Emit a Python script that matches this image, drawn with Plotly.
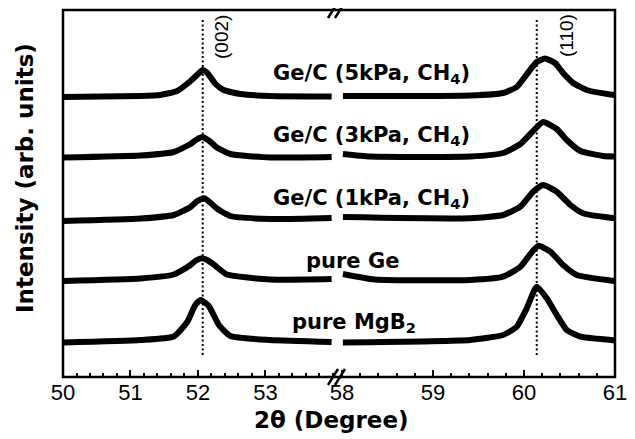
import plotly.graph_objects as go

# ---- data (2theta in degrees, intensity in arbitrary stacked units) ----
labels = ["Ge/C (5kPa, CH<sub>4</sub>)", "Ge/C (3kPa, CH<sub>4</sub>)",
          "Ge/C (1kPa, CH<sub>4</sub>)", "pure Ge", "pure MgB<sub>2</sub>"]

c1_left_x = [50.0, 51.15, 51.44, 51.69, 51.89, 52.0, 52.07, 52.14, 52.26, 52.38, 52.63, 53.07, 53.98]
c1_left_y = [280, 281, 282, 286, 296, 303, 307, 304, 293, 287, 283, 281, 280.5]
c1_right_x = [58.01, 59.41, 59.77, 59.92, 60.05, 60.14, 60.23, 60.34, 60.43, 60.54, 60.69, 60.95, 61.0]
c1_right_y = [281, 281.5, 284, 290, 305, 315, 318.5, 314, 304, 294, 287, 282.5, 282]

c2_left_x = [50.0, 51.15, 51.64, 51.89, 51.98, 52.07, 52.17, 52.28, 52.48, 53.07, 53.98]
c2_left_y = [219.5, 221.5, 225, 233, 237.5, 240, 236, 229.5, 223, 219.5, 220]
c2_right_x = [58.01, 58.31, 59.41, 59.77, 59.96, 60.09, 60.21, 60.36, 60.47, 60.62, 60.87, 61.0]
c2_right_y = [223, 220.5, 220.5, 224, 233, 245, 255, 248, 237, 226, 221, 220.5]

c3_left_x = [50.0, 51.15, 51.64, 51.89, 51.98, 52.09, 52.18, 52.28, 52.48, 53.07, 53.98]
c3_left_y = [156, 158.5, 162, 170, 175.5, 178.7, 174.5, 168.5, 161, 158, 159]
c3_right_x = [58.01, 59.41, 59.77, 59.96, 60.10, 60.21, 60.36, 60.51, 60.65, 60.95, 61.0]
c3_right_y = [160, 158.7, 162, 170.3, 185.3, 192, 185.3, 172, 163.7, 159.3, 159]

c4_left_x = [50.0, 51.15, 51.64, 51.89, 51.97, 52.06, 52.15, 52.26, 52.43, 53.07, 53.98]
c4_left_y = [96, 98.5, 102.5, 112, 116.5, 118.7, 116.5, 111, 102.5, 97.5, 98]
c4_right_x = [58.01, 58.36, 59.41, 59.77, 59.96, 60.09, 60.16, 60.29, 60.43, 60.58, 60.95, 61.0]
c4_right_y = [103, 97.5, 97, 100.3, 110.3, 125.3, 131.3, 125.3, 112, 102, 96.5, 96]

c5_left_x = [50.0, 51.15, 51.64, 51.84, 51.96, 52.04, 52.16, 52.31, 52.48, 53.07, 53.98]
c5_left_y = [34.5, 37, 40.5, 55, 72, 77, 71, 52, 41, 37, 35]
c5_right_x = [58.01, 59.41, 59.77, 59.92, 60.03, 60.14, 60.25, 60.36, 60.47, 60.62, 60.95, 61.0]
c5_right_y = [34.5, 37, 42, 50.3, 68.7, 90.3, 78.7, 62, 47, 40.3, 37, 36.5]

ref_peaks = [52.07, 60.14]          # dotted reference lines
ref_labels = ["(002)", "(110)"]
ref_span = [22, 357]

left_ticks = [50, 51, 52, 53]
right_ticks = [58, 59, 60, 61]

# ---- figure ----
fig = go.Figure()
curves = [
    (c1_left_x, c1_left_y, c1_right_x, c1_right_y),
    (c2_left_x, c2_left_y, c2_right_x, c2_right_y),
    (c3_left_x, c3_left_y, c3_right_x, c3_right_y),
    (c4_left_x, c4_left_y, c4_right_x, c4_right_y),
    (c5_left_x, c5_left_y, c5_right_x, c5_right_y),
]
line_style = dict(color="black", width=6, shape="spline", smoothing=0.5)
for lx, ly, rx, ry in curves:
    fig.add_trace(go.Scatter(x=lx, y=ly, mode="lines", line=line_style,
                             xaxis="x", yaxis="y", showlegend=False, hoverinfo="skip"))
    fig.add_trace(go.Scatter(x=rx, y=ry, mode="lines", line=line_style,
                             xaxis="x2", yaxis="y", showlegend=False, hoverinfo="skip"))

dot_style = dict(color="black", width=2, dash="2px,2.5px")
fig.add_trace(go.Scatter(x=[ref_peaks[0]] * 2, y=ref_span, mode="lines", line=dot_style,
                         xaxis="x", yaxis="y", showlegend=False, hoverinfo="skip"))
fig.add_trace(go.Scatter(x=[ref_peaks[1]] * 2, y=ref_span, mode="lines", line=dot_style,
                         xaxis="x2", yaxis="y", showlegend=False, hoverinfo="skip"))

tick_font = dict(family="Liberation Sans, Arial", size=22, color="black")
minor = dict(ticks="inside", ticklen=4, tickwidth=2, tickcolor="black", dtick=0.2, showgrid=False)
split = 0.4964
# page body has an 8px margin, so the figure is 8px smaller and offsets shrink by 8
fig.update_layout(
    width=627, height=431,
    margin=dict(l=55, r=20, t=2, b=62),
    paper_bgcolor="white", plot_bgcolor="white",
    showlegend=False,
    xaxis=dict(domain=[0, split], range=[50, 54.06], tickmode="array", tickvals=left_ticks,
               ticktext=[str(t) for t in left_ticks],
               ticks="inside", ticklen=7, tickwidth=2, tickcolor="black",
               minor=dict(minor, tick0=50), showgrid=False, zeroline=False,
               showline=False, tickfont=tick_font, anchor="y"),
    xaxis2=dict(domain=[split, 1], range=[57.945, 61], tickmode="array", tickvals=right_ticks,
                ticktext=[str(t) for t in right_ticks],
                ticks="inside", ticklen=7, tickwidth=2, tickcolor="black",
                minor=dict(minor, tick0=58), showgrid=False, zeroline=False,
                showline=False, tickfont=tick_font, anchor="y"),
    yaxis=dict(range=[0, 367], showticklabels=False, ticks="", showgrid=False,
               zeroline=False, showline=False),
)

# helpers: target-image pixel -> paper coordinates
def px(x):
    return (x - 63) / 552

def py(y):
    return (377 - y) / 367

shapes = [dict(type="rect", xref="paper", yref="paper", x0=0, y0=0, x1=1, y1=1,
               line=dict(color="black", width=2.5), layer="above")]
for yc in (377, 10):
    for dx in (0, 7):
        shapes.append(dict(type="line", xref="paper", yref="paper",
                           x0=px(328 + dx), y0=py(yc + 8), x1=px(338 + dx), y1=py(yc - 8),
                           line=dict(color="black", width=2.5), layer="above"))
fig.update_layout(shapes=shapes)

bold = dict(family="DejaVu Sans", size=21, color="black")
label_pos = [(371, 74), (371, 136), (371, 199), (352, 261), (354, 323)]
ann = []
for text, (lx, ly) in zip(labels, label_pos):
    ann.append(dict(text="<b>" + text + "</b>", xref="paper", yref="paper", x=px(lx), y=py(ly),
                    xanchor="center", yanchor="middle", showarrow=False, font=bold))
for text, (lx, ly) in zip(ref_labels, [(222, 37), (566, 36)]):
    ann.append(dict(text=text, xref="paper", yref="paper", x=px(lx), y=py(ly), textangle=-90,
                    xanchor="center", yanchor="middle", showarrow=False,
                    font=dict(family="Liberation Sans, Arial", size=19, color="black")))
ann.append(dict(text="<b>2θ (Degree)</b>", xref="paper", yref="paper", x=px(331), y=py(420),
                xanchor="center", yanchor="middle", showarrow=False,
                font=dict(family="DejaVu Sans", size=23, color="black")))
ann.append(dict(text="<b>Intensity (arb. units)</b>", xref="paper", yref="paper", x=px(25), y=py(178),
                textangle=-90, xanchor="center", yanchor="middle", showarrow=False,
                font=dict(family="DejaVu Sans", size=23, color="black")))
fig.update_layout(annotations=ann)

fig.write_html("out.html")
